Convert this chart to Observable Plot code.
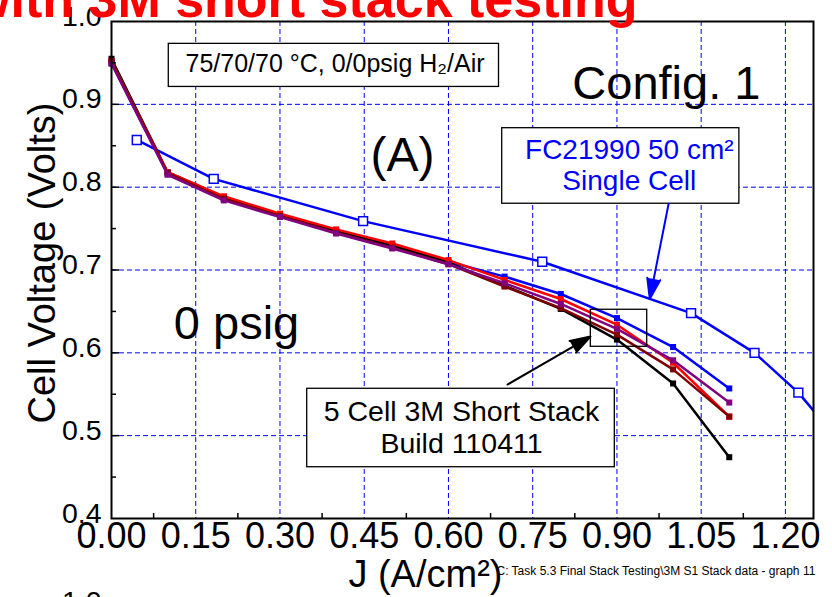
<!DOCTYPE html>
<html>
<head>
<meta charset="utf-8">
<script src="https://cdn.jsdelivr.net/npm/d3@7"></script>
<script src="https://cdn.jsdelivr.net/npm/@observablehq/plot@0.6"></script>
<style>
  html, body { margin: 0; padding: 0; background: #fff; }
  #chart svg { display: block; }
</style>
</head>
<body>
<div id="chart"></div>
<script>
// Current density steps of the 5-cell stack polarization curve (A/cm²)
const stackJ = [0, 0.1, 0.2, 0.3, 0.4, 0.5, 0.6, 0.7, 0.8, 0.9, 1.0, 1.1];

// Individual cell voltages of the stack (V)
const cellBlue    = [0.950, 0.816, 0.786, 0.766, 0.747, 0.729, 0.710, 0.692, 0.671, 0.642, 0.607, 0.557];
const cellBlack   = [0.955, 0.818, 0.788, 0.767, 0.748, 0.730, 0.709, 0.681, 0.653, 0.616, 0.563, 0.474];
const cellRed     = [0.952, 0.818, 0.789, 0.768, 0.749, 0.732, 0.712, 0.688, 0.665, 0.634, 0.588, 0.523];
const cellDarkRed = [0.952, 0.817, 0.786, 0.765, 0.745, 0.727, 0.707, 0.680, 0.654, 0.622, 0.580, 0.523];
const cellPurple  = [0.949, 0.815, 0.784, 0.764, 0.744, 0.726, 0.707, 0.684, 0.659, 0.629, 0.591, 0.540];

// FC21990 50 cm² single cell reference curve
const singleCellJ = [0.045, 0.182, 0.448, 0.767, 1.032, 1.145, 1.223, 1.300];
const singleCellV = [0.857, 0.810, 0.759, 0.710, 0.648, 0.600, 0.552, 0.490];

// Axis ticks
const xTickValues = [0, 0.15, 0.30, 0.45, 0.60, 0.75, 0.90, 1.05, 1.20];
const xTickLabels = ["0.00", "0.15", "0.30", "0.45", "0.60", "0.75", "0.90", "1.05", "1.20"];
const xMinorTicks = [0.075, 0.225, 0.375, 0.525, 0.675, 0.825, 0.975, 1.125];
const yTickValues = [0.4, 0.5, 0.6, 0.7, 0.8, 0.9, 1.0];
const yTickLabels = ["0.4", "0.5", "0.6", "0.7", "0.8", "0.9", "1.0"];
const yMinorTicks = [0.45, 0.55, 0.65, 0.75, 0.85, 0.95];

const stackSeries = [
  {color: "#0000ff", values: cellBlue},
  {color: "#000000", values: cellBlack},
  {color: "#ff0000", values: cellRed},
  {color: "#800000", values: cellDarkRed},
  {color: "#800080", values: cellPurple}
];

const singleCell = singleCellJ.map((j, i) => ({j, v: singleCellV[i]}));
const xTicks = xTickValues.map((x, i) => ({x, label: xTickLabels[i]}));
const yTicks = yTickValues.map((y, i) => ({y, label: yTickLabels[i]}));

const W = 832, H = 597;
const mT = 21, mL = 111, mR = 19, mB = 79;
const frameW = W - mL - mR, frameH = H - mT - mB;
const font = "Liberation Sans, Arial, Helvetica, sans-serif";
const grid = {stroke: "#0000ff", strokeWidth: 1, strokeDasharray: "5,3"};

const seriesMarks = stackSeries.flatMap(s => {
  const rows = stackJ.map((j, i) => ({j, v: s.values[i]}));
  return [
    Plot.line(rows, {x: "j", y: "v", stroke: s.color, strokeWidth: 2.5}),
    Plot.dot(rows, {x: "j", y: "v", symbol: "square", r: 3.4, fill: s.color, stroke: "none"})
  ];
});

const chart = Plot.plot({
  width: W, height: H,
  marginTop: mT, marginLeft: mL, marginRight: mR, marginBottom: mB,
  x: {domain: [0, 1.25], axis: null},
  y: {domain: [0.4, 1.0], axis: null},
  style: {fontFamily: font, background: "white", overflow: "visible", color: "black"},
  marks: [
    // dashed grid
    Plot.ruleX(xTickValues.slice(1), {x: d => d, ...grid}),
    Plot.ruleY(yTickValues.slice(1, -1), {y: d => d, ...grid}),

    // annotation boxes
    Plot.rect([0], {x1: 0.102, x2: 0.690, y1: 0.973, y2: 0.921, fill: "white", stroke: "black", strokeWidth: 1.3}),
    Plot.rect([0], {x1: 0.6957, x2: 1.118, y1: 0.8712, y2: 0.780, fill: "white", stroke: "black", strokeWidth: 1.3}),
    Plot.rect([0], {x1: 0.3485, x2: 0.8962, y1: 0.5566, y2: 0.4619, fill: "white", stroke: "black", strokeWidth: 1.3}),

    // single cell reference
    Plot.line(singleCell, {x: "j", y: "v", stroke: "#0000ff", strokeWidth: 2.5, clip: true}),
    Plot.dot(singleCell, {x: "j", y: "v", symbol: "square", r: 5, fill: "white", stroke: "#0000ff", strokeWidth: 1.5, clip: true}),

    // stack cells
    ...seriesMarks,

    // zoom box around the 0.9 A/cm² points
    Plot.rect([0], {x1: 0.8535, x2: 0.9539, y1: 0.652, y2: 0.6073, fill: "none", stroke: "black", strokeWidth: 1.3}),

    // arrows
    Plot.arrow([0], {x1: 0.992, y1: 0.780, x2: 0.9585, y2: 0.6652, stroke: "#0000ff", fill: "#0000ff", strokeWidth: 2, headLength: 16, headAngle: 36}),
    Plot.arrow([0], {x1: 0.7051, y1: 0.5617, x2: 0.8529, y2: 0.6197, stroke: "black", fill: "black", strokeWidth: 2, headLength: 16, headAngle: 36}),

    // axis ticks (inward)
    Plot.ruleX(xMinorTicks, {x: d => d, stroke: "black", strokeWidth: 1.5, insetTop: frameH - 5}),
    Plot.ruleY(yTickValues.slice(1, -1), {y: d => d, stroke: "black", strokeWidth: 1.5, insetRight: frameW - 8}),
    Plot.ruleY(yMinorTicks, {y: d => d, stroke: "black", strokeWidth: 1.5, insetRight: frameW - 5}),
    Plot.frame({stroke: "black", strokeWidth: 2}),

    // tick labels
    Plot.text(xTicks, {x: "x", text: "label", frameAnchor: "bottom", lineAnchor: "top", dy: 4, fontSize: 36, fill: "black", ariaLabel: "xlab"}),
    Plot.text(yTicks, {y: "y", text: "label", frameAnchor: "left", textAnchor: "end", lineAnchor: "middle", dx: -10, dy: -5, fontSize: 28.5, fill: "black"}),

    // axis titles
    Plot.text(["Cell Voltage (Volts)"], {text: d => d, frameAnchor: "left", rotate: -90, dx: -69, dy: -7, fontSize: 38, lineAnchor: "middle", textAnchor: "middle", fill: "black", ariaLabel: "ytitle"}),
    Plot.text(["J (A/cm²)"], {x: 0.559, text: d => d, frameAnchor: "bottom", lineAnchor: "bottom", dy: 68, fontSize: 38, fill: "black", ariaLabel: "xtitle"}),
    Plot.text(["C: Task 5.3 Final Stack Testing\\3M S1 Stack data - graph 11"], {text: d => d, frameAnchor: "bottom-left", textAnchor: "start", lineAnchor: "bottom", dx: 496 - mL, dy: 574 - (H - mB), fontSize: 12, fill: "black", ariaLabel: "caption"}),

    // annotation texts
    Plot.text(["75/70/70 °C, 0/0psig H₂/Air"], {x: 0.398, y: 0.9388, text: d => d, lineAnchor: "bottom", fontSize: 25, fill: "black"}),
    Plot.text(["Config. 1"], {x: 0.988, y: 0.907, text: d => d, lineAnchor: "bottom", fontSize: 47, fill: "black"}),
    Plot.text(["(A)"], {x: 0.518, y: 0.820, text: d => d, lineAnchor: "bottom", fontSize: 48, fill: "black"}),
    Plot.text(["0 psig"], {x: 0.2226, y: 0.6173, text: d => d, lineAnchor: "bottom", fontSize: 47, fill: "black"}),
    Plot.text(["FC21990 50 cm²\nSingle Cell"], {x: 0.922, y: 0.796, text: d => d, lineAnchor: "bottom", lineHeight: 1.13, fontSize: 28, fill: "#0000ff"}),
    Plot.text(["5 Cell 3M Short Stack\nBuild 110411"], {x: 0.6232, y: 0.4793, text: d => d, lineAnchor: "bottom", lineHeight: 1.13, fontSize: 28.5, fill: "black"}),

    // slide heading above the chart and the next chart's first tick label below it
    Plot.text(["with 3M short stack testing"], {text: d => d, frameAnchor: "top-left", textAnchor: "end", lineAnchor: "bottom", dx: 637 - mL, dy: 16 - mT, fontSize: 52, fontWeight: "bold", fill: "#ff0000"}),
    Plot.text(["1.0"], {text: d => d, frameAnchor: "bottom-left", textAnchor: "end", lineAnchor: "bottom", dx: -10, dy: 610 - (H - mB), fontSize: 28.5, fill: "black"})
  ]
});

// Narrow the fonts that are set condensed
function condense(svg, label, s) {
  d3.select(svg).selectAll(`g[aria-label="${label}"] text`).each(function() {
    const t = this.getAttribute("transform") || "";
    const x = +this.getAttribute("x") || 0;
    const y = +this.getAttribute("y") || 0;
    this.removeAttribute("x");
    this.removeAttribute("y");
    this.setAttribute("transform", `${t} translate(${x},${y}) scale(${s},1)`);
  });
}
condense(chart, "xlab", 0.77);
condense(chart, "ytitle", 0.86);
condense(chart, "xtitle", 0.93);
condense(chart, "caption", 0.87);

document.getElementById("chart").append(chart);
</script>
</body>
</html>
